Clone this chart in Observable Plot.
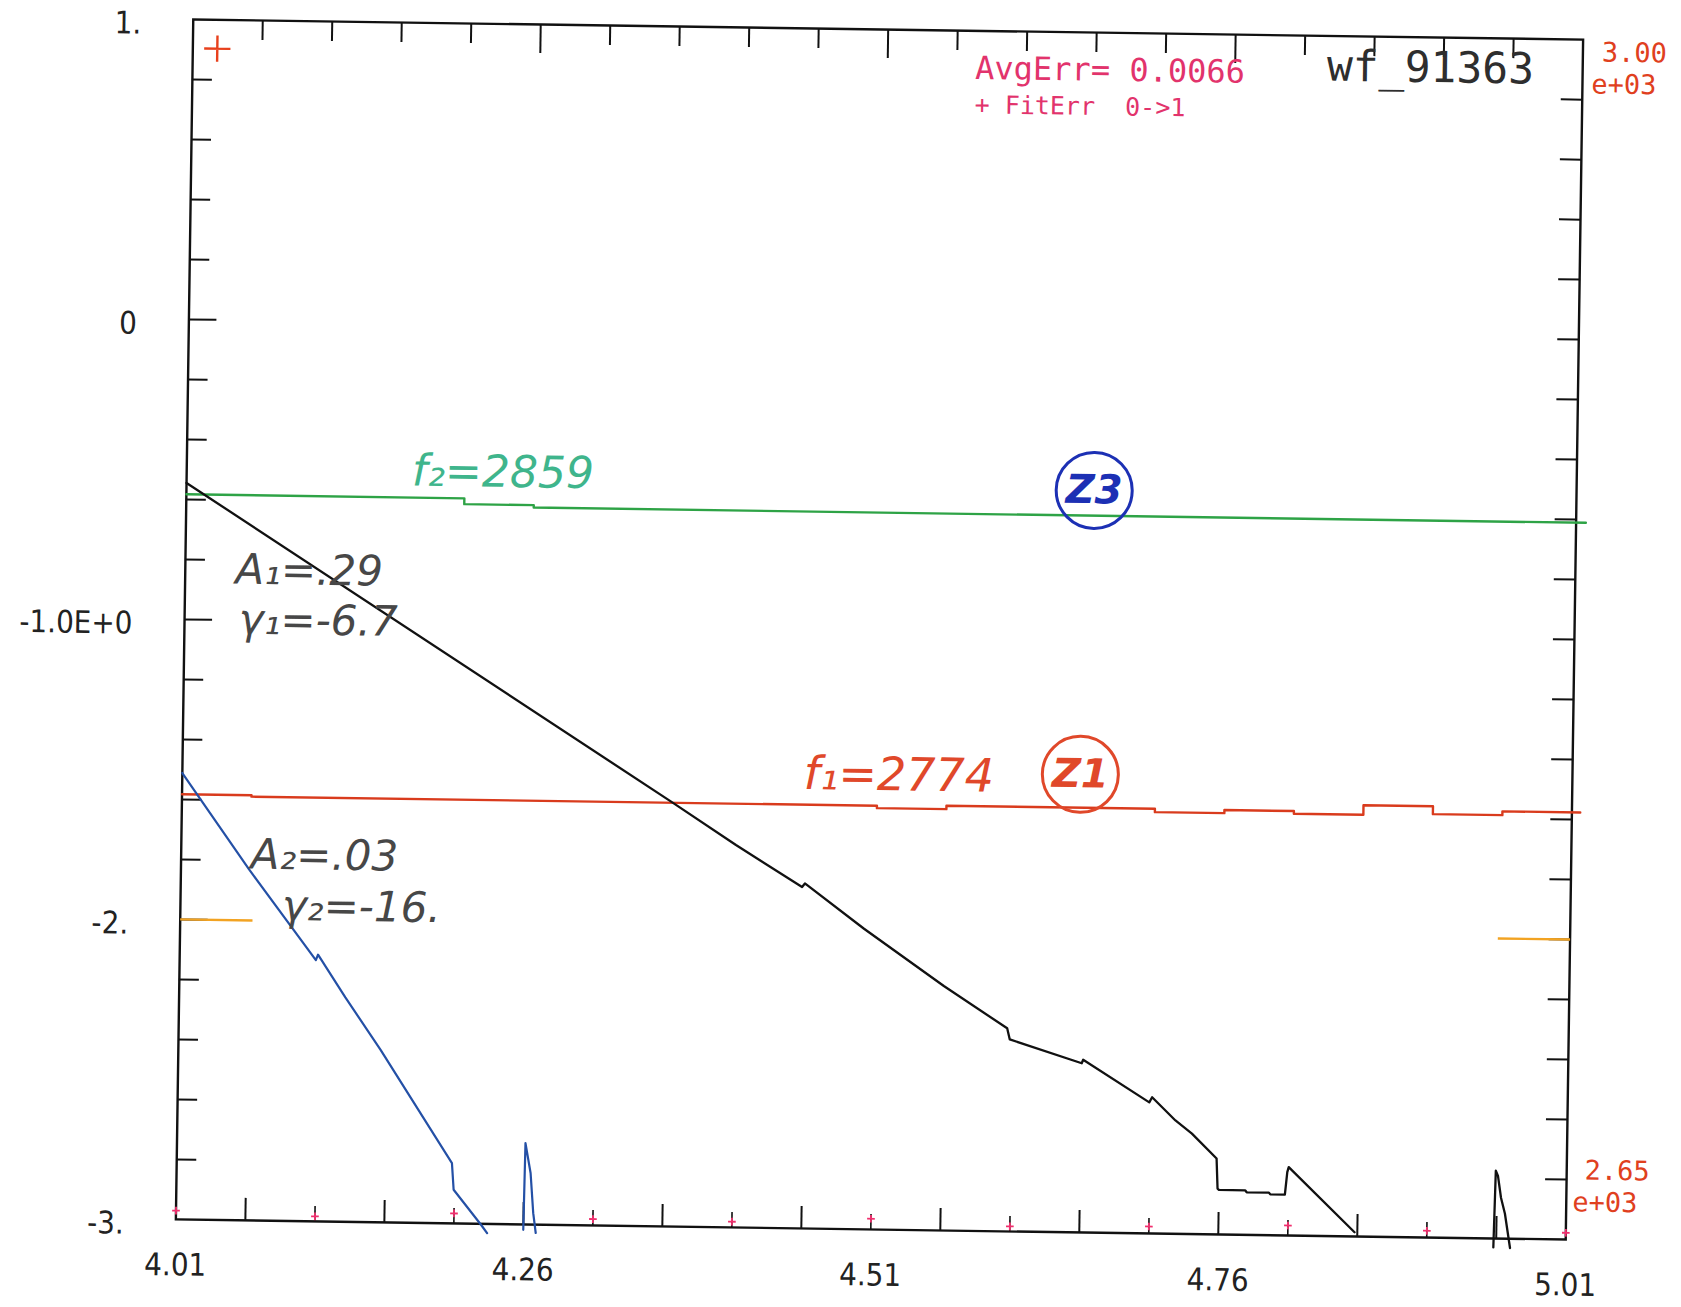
<!DOCTYPE html>
<html>
<head>
<meta charset="utf-8">
<script src="https://cdn.jsdelivr.net/npm/d3@7"></script>
<script src="https://cdn.jsdelivr.net/npm/@observablehq/plot@0.6"></script>
<style>
  html, body { margin: 0; padding: 0; background: #fff; overflow: hidden; }
  #chart { width: 1681px; height: 1307px; position: relative; }
  #chart svg { position: absolute; left: 0; top: 0; transform: rotate(0.83deg); transform-origin: 879px 629px; }
</style>
</head>
<body>
<div id="chart"></div>
<script>
// ---------- axes / tick labels ----------
const xLabelValues = [4.01, 4.26, 4.51, 4.76, 5.01];
const xTickLabels  = ["4.01", "4.26", "4.51", "4.76", "5.01"];
const yLabelValues = [1, 0, -1, -2, -3];
const yTickLabels  = ["1.", "0", "-1.0E+0", "-2.", "-3."];
const fDomain      = [2650, 3000];           // right-hand (frequency) axis
const fTickLabels  = [
  {f: 3000, label: "3.00", dx: 19, dy: 13},
  {f: 3000, label: "e+03", dx: 9,  dy: 45},
  {f: 2650, label: "2.65", dx: 18, dy: -69},
  {f: 2650, label: "e+03", dx: 6,  dy: -37}
];

const yMinorTicks  = [0.8, 0.6, 0.4, 0.2, -0.2, -0.4, -0.6, -0.8, -1.2, -1.4, -1.6, -1.8, -2.2, -2.4, -2.6, -2.8];
const yMajorTicks  = [0, -1, -2];
const yRightTicks  = [0.8, 0.6, 0.4, 0.2, 0, -0.2, -0.4, -0.6, -0.8, -1, -1.2, -1.4, -1.6, -1.8, -2, -2.2, -2.4, -2.6, -2.8];
const xTopMinor    = [4.06, 4.11, 4.16, 4.21, 4.31, 4.36, 4.41, 4.46, 4.56, 4.61, 4.66, 4.71, 4.81, 4.86, 4.91, 4.96];
const xTopMajor    = [4.26, 4.51, 4.76];
const xBottomOdd   = [4.06, 4.16, 4.26, 4.36, 4.46, 4.56, 4.66, 4.76, 4.86, 4.96];
const xBottomEven  = [4.11, 4.21, 4.31, 4.41, 4.51, 4.61, 4.71, 4.81, 4.91];

// ---------- data series ----------
// component 1: log10 amplitude (black)
const amp1Time = [4.010, 4.363, 4.409, 4.457, 4.459, 4.502, 4.560, 4.606, 4.608, 4.660, 4.661, 4.709, 4.711, 4.728, 4.740, 4.758, 4.759, 4.760, 4.779, 4.780, 4.796, 4.797, 4.8075, 4.809, 4.810, 4.858, null, 4.958, 4.959, 4.9606, 4.963, 4.966, 4.970];
const amp1Log  = [-0.545, -1.587, -1.725, -1.862, -1.850, -1.998, -2.185, -2.323, -2.360, -2.436, -2.424, -2.563, -2.546, -2.622, -2.665, -2.747, -2.847, -2.851, -2.852, -2.858, -2.858, -2.864, -2.864, -2.789, -2.772, -2.986, null, -3.030, -2.774, -2.791, -2.864, -2.917, -3.031];
// component 2: log10 amplitude (blue)
const amp2Time = [4.010, 4.059, 4.108, 4.1095, 4.1296, 4.1555, 4.208, 4.2095, 4.2297, 4.234, null, 4.260, 4.2607, 4.2647, 4.267, 4.269];
const amp2Log  = [-1.512, -1.830, -2.129, -2.111, -2.252, -2.425, -2.799, -2.888, -3.004, -3.031, null, -3.018, -2.729, -2.829, -2.962, -3.028];
// frequency tracks (step lines, right axis)
const f1Time  = [4.01, 4.06, 4.51, 4.56, 4.71, 4.76, 4.81, 4.86, 4.91, 4.96, 5.016];
const f1Value = [2774.0, 2773.6, 2772.9, 2773.9, 2772.9, 2773.8, 2773.0, 2775.8, 2773.5, 2774.6, 2774.6];
const f2Time  = [4.01, 4.21, 4.26, 5.017];
const f2Value = [2861.5, 2859.8, 2859.1, 2859.1];
// fit error markers (0 -> 1 over the full height)
const fitTime = [4.01, 4.11, 4.21, 4.31, 4.41, 4.51, 4.61, 4.71, 4.81, 4.91, 5.01];
const fitErr  = [0.0073, 0.0042, 0.0083, 0.0053, 0.0048, 0.0089, 0.0042, 0.0058, 0.0083, 0.0056, 0.0056];
const fitMarker = [{t: 4.0276, v: 0.904}];
// orange reference level
const refLevel = -2;
const refSpans = [[4.01, 4.062], [4.958, 5.01]];

// ---------- annotations ----------
const handNotes = [
  {t: 4.172, v: -0.496, label: "f₂=2859", color: "#3fb58c", size: 44},
  {t: 4.457, v: -1.486, label: "f₁=2774", color: "#e0482a", size: 46},
  {t: 4.046, v: -0.833, label: "A₁=.29",  color: "#474747", size: 42},
  {t: 4.049, v: -1.000, label: "γ₁=-6.7", color: "#474747", size: 42},
  {t: 4.060, v: -1.782, label: "A₂=.03",  color: "#474747", size: 42},
  {t: 4.083, v: -1.952, label: "γ₂=-16.", color: "#474747", size: 42}
];
const circledNotes = [
  {t: 4.663, v: -0.526, label: "Z3", color: "#1c30b4"},
  {t: 4.656, v: -1.473, label: "Z1", color: "#e0482a"}
];
const headerNotes = [
  {t: 4.573, v: 0.874, label: "AvgErr= 0.0066", color: "#e2336c", size: 32},
  {t: 4.573, v: 0.752, label: "+ FitErr\u00a0\u00a00->1", color: "#e2336c", size: 25},
  {t: 4.826, v: 0.897, label: "wf_91363", color: "#2e2e2e", size: 43}
];

// ---------- build ----------
const fToY = f => -3 + (f - fDomain[0]) / (fDomain[1] - fDomain[0]) * 4;
const zip = (a, b, k1, k2) => a.map((d, i) => ({[k1]: d, [k2]: b[i]}));
const amp1 = zip(amp1Time, amp1Log, "t", "v");
const amp2 = zip(amp2Time, amp2Log, "t", "v");
const f1 = zip(f1Time, f1Value, "t", "f");
const f2 = zip(f2Time, f2Value, "t", "f");
const fit = zip(fitTime, fitErr, "t", "e");
const refs = refSpans.map(([a, b]) => ({x1: a, x2: b, y: refLevel}));

const axisFont = "'DejaVu Sans Condensed', 'DejaVu Sans', sans-serif";
const monoFont = "'DejaVu Sans Mono', monospace";
const handFont = "'DejaVu Sans', sans-serif";
const blank = () => "";

const chart = Plot.plot({
  width: 1681,
  height: 1307,
  marginLeft: 184,
  marginRight: 107,
  marginTop: 29,
  marginBottom: 78,
  x: {domain: [4.01, 5.01], axis: null},
  y: {domain: [-3, 1], axis: null},
  color: {type: "identity"},
  style: {background: "transparent", fontFamily: axisFont, fontSize: "31px", color: "#222", overflow: "visible"},
  marks: [
    Plot.frame({stroke: "#111", strokeWidth: 2.4}),
    // left ticks and labels
    Plot.axisY({anchor: "left", ticks: yMinorTicks, tickSize: -20, tickFormat: blank, strokeWidth: 2, stroke: "#111"}),
    Plot.axisY({anchor: "left", ticks: yMajorTicks, tickSize: -28, tickFormat: blank, strokeWidth: 2, stroke: "#111"}),
    Plot.axisY({anchor: "left", ticks: yLabelValues, tickSize: 0, tickPadding: 52, dy: 5, fontSize: 31, fill: "#222",
      tickFormat: d => yTickLabels[yLabelValues.indexOf(d)]}),
    // right ticks and labels
    Plot.axisY({anchor: "right", ticks: yRightTicks, tickSize: -22, tickFormat: blank, strokeWidth: 2, stroke: "#111"}),
    ...fTickLabels.map(d => Plot.text([d], {x: 5.01, y: r => fToY(r.f), text: "label", textAnchor: "start", dx: d.dx, dy: d.dy, fill: "#e0401e", fontSize: 27, fontFamily: monoFont})),
    // top ticks
    Plot.axisX({anchor: "top", ticks: xTopMinor, tickSize: -19, tickFormat: blank, strokeWidth: 2, stroke: "#111"}),
    Plot.axisX({anchor: "top", ticks: xTopMajor, tickSize: -28, tickFormat: blank, strokeWidth: 2, stroke: "#111"}),
    // bottom ticks and labels
    Plot.axisX({anchor: "bottom", ticks: xBottomOdd, tickSize: -22, tickFormat: blank, strokeWidth: 2, stroke: "#111"}),
    Plot.axisX({anchor: "bottom", ticks: xBottomEven, tickSize: -15, tickFormat: blank, strokeWidth: 1.6, stroke: "#111"}),
    Plot.axisX({anchor: "bottom", ticks: xLabelValues, tickSize: 0, tickPadding: 34, fontSize: 31, fill: "#222",
      tickFormat: d => xTickLabels[xLabelValues.indexOf(d)]}),
    // reference level
    Plot.link(refs, {x1: "x1", x2: "x2", y1: "y", y2: "y", stroke: "#f2a322", strokeWidth: 2.4}),
    // frequency tracks
    Plot.line(f2, {x: "t", y: d => fToY(d.f), curve: "step-after", stroke: "#2ea346", strokeWidth: 2.4}),
    Plot.line(f1, {x: "t", y: d => fToY(d.f), curve: "step-after", stroke: "#d93b1d", strokeWidth: 2.4}),
    // amplitude decays
    Plot.line(amp2, {x: "t", y: "v", stroke: "#2450a6", strokeWidth: 2.2}),
    Plot.line(amp1, {x: "t", y: "v", stroke: "#111", strokeWidth: 2.3}),
    // fit error markers
    Plot.dot(fit, {x: "t", y: d => -3 + d.e * 4, symbol: "plus", r: 2.6, stroke: "#f0306e", strokeWidth: 1.8}),
    Plot.dot(fitMarker, {x: "t", y: "v", symbol: "plus", r: 8.5, stroke: "#e8401c", strokeWidth: 2.4}),
    // header texts
    ...headerNotes.map(d => Plot.text([d], {x: "t", y: "v", text: "label", fill: "color", fontSize: d.size, fontFamily: monoFont, textAnchor: "start"})),
    // handwritten notes
    ...handNotes.map(d => Plot.text([d], {x: "t", y: "v", text: "label", fill: "color", fontSize: d.size, fontFamily: handFont, fontStyle: "oblique", textAnchor: "start"})),
    Plot.dot(circledNotes, {x: "t", y: "v", r: 38, stroke: "color", strokeWidth: 3, fill: "none"}),
    Plot.text(circledNotes, {x: "t", y: "v", text: "label", fill: "color", fontSize: 40, fontFamily: handFont, fontWeight: "bold", fontStyle: "oblique"})
  ]
});

document.getElementById("chart").appendChild(chart);
</script>
</body>
</html>
